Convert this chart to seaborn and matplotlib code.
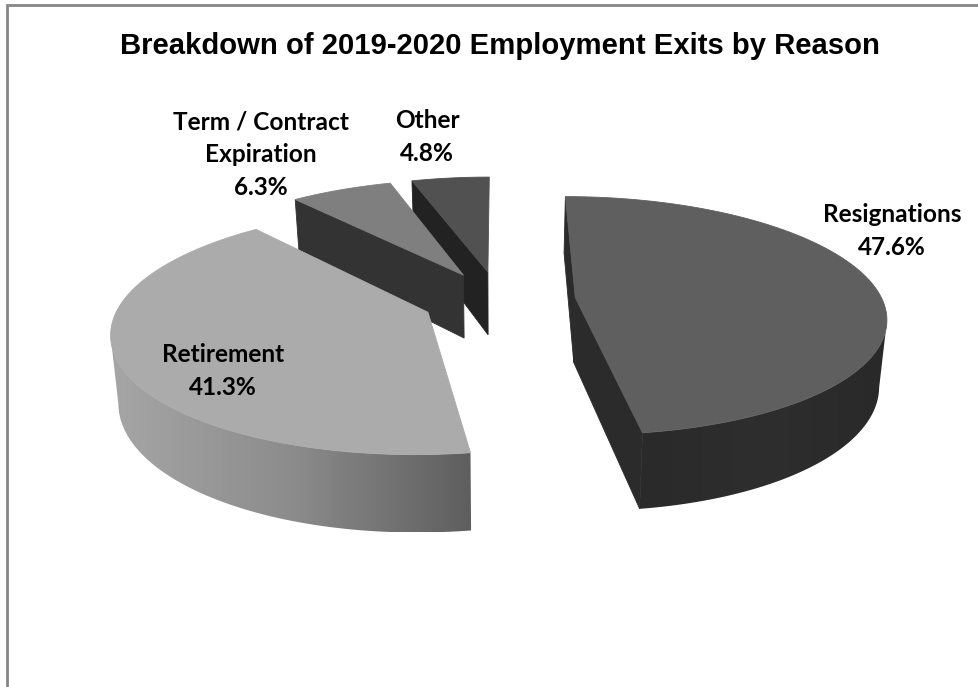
import numpy as np
import pandas as pd
import seaborn as sns
import matplotlib
matplotlib.use("Agg")
import matplotlib.pyplot as plt
from matplotlib.patches import Polygon

# Share of exits per reason, in percent, clockwise from twelve o'clock
reasons = ["Resignations", "Retirement", "Term / Contract\nExpiration", "Other"]
shares = [47.6, 41.3, 6.3, 4.8]

top_colours = ["#5f5f5f", "#ababab", "#7f7f7f", "#515151"]
wall_colours = [["#2a2a2a", "#2e2e2e", "#292929"], ["#a6a6a6", "#8c8c8c", "#5e5e5e"]]
# Cut faces that turn towards the viewer: (at start angle, at end angle)
cut_colours = [("#2b2b2b", "#2b2b2b"), (None, None), ("#333333", None), ("#222222", None)]
label_xy = [(892, 231), (223, 371), (261, 155), (427, 137)]

# Perspective view of the exploded disc, in figure pixels
CX, CY = 499, 300
RX, RY = 307, 117
TILT = 0.15
EXPLODE = 0.25
THICK = 65
CONVERGE = 0.98


def project(px, py, depth=0.0):
    """Map pie-plane coordinates to the screen; depth 1 is the underside."""
    s = 1.0 / (1.0 + TILT * py)
    x = RX * px * s * (1 - (1 - CONVERGE) * depth)
    y = -RY * py * s + THICK * s * depth
    return CX + x, CY + y


sns.set_theme(style="white", rc={"axes.grid": False})

fig = plt.figure(figsize=(9.79, 6.87), dpi=100, facecolor="white")
ax = fig.add_axes([0, 0, 1, 1])
ax.axis("off")

table = pd.DataFrame({"reason": reasons, "share": shares})
table["end"] = table["share"].cumsum() / table["share"].sum() * 360
table["start"] = table["end"].shift(fill_value=0.0)
table["mid"] = (table["start"] + table["end"]) / 2

# Chart frame: left and top edges only
ax.plot([7, 7, 979], [687, 5, 5], color="#868686", lw=2.0, solid_joinstyle="miter", zorder=1)

# Back slices first so the nearer ones cover them
for i in [3, 2, 1, 0]:
    row = table.iloc[i]
    mid = np.radians(row["mid"])
    ox, oy = EXPLODE * np.sin(mid), EXPLODE * np.cos(mid)
    theta = np.radians(np.linspace(row["start"], row["end"], 240))
    rim_x, rim_y = ox + np.sin(theta), oy + np.cos(theta)

    tx, ty = project(rim_x, rim_y)
    bx, by = project(rim_x, rim_y, 1.0)
    order = 2 + (3 - i) * 0.1

    # Outer wall: only the part of the rim running right to left faces the viewer
    front = np.gradient(tx) < 0
    if front.sum() > 1:
        band = np.column_stack([np.r_[tx[front], bx[front][::-1]],
                                np.r_[ty[front], by[front][::-1]]])
        clip = Polygon(band, closed=True, facecolor="none", edgecolor="none",
                       transform=ax.transData)
        ax.add_patch(clip)
        shades = sns.blend_palette(wall_colours[i], 256, as_cmap=True)
        left, right = band[:, 0].min(), band[:, 0].max()
        low, high = band[:, 1].min(), band[:, 1].max()
        image = ax.imshow(np.linspace(0, 1, 256)[None, :], cmap=shades, aspect="auto",
                          extent=(left, right, high, low), zorder=order,
                          interpolation="bilinear")
        image.set_clip_path(clip)

    # Flat cut faces between the rim and the apex
    ax_top, ay_top = project(ox, oy)
    ax_bot, ay_bot = project(ox, oy, 1.0)
    for idx, colour in zip((0, -1), cut_colours[i]):
        if colour is None:
            continue
        quad = [(ax_top, ay_top), (tx[idx], ty[idx]), (bx[idx], by[idx]), (ax_bot, ay_bot)]
        ax.add_patch(Polygon(quad, closed=True, facecolor=colour, edgecolor=colour, lw=0.6,
                             zorder=order))

    # Top surface
    outline = np.column_stack([np.r_[ax_top, tx], np.r_[ay_top, ty]])
    ax.add_patch(Polygon(outline, closed=True, facecolor=top_colours[i],
                         edgecolor=top_colours[i], lw=0.6, zorder=order + 0.01))

ax.set_xlim(0, 979)
ax.set_ylim(687, 0)

for i, row in table.iterrows():
    x, y = label_xy[i]
    ax.text(x, y, f"{row['reason']}\n{row['share']:.1f}%", ha="center", va="center",
            family="Lato", fontweight="bold", fontsize=17.6, color="black",
            linespacing=1.52, zorder=5)

ax.text(500, 46, "Breakdown of 2019-2020 Employment Exits by Reason", ha="center", va="center",
        family="Liberation Sans", fontweight="bold", fontsize=21.1, color="black", zorder=5)

fig.savefig("out.png", dpi=100, facecolor="white")
